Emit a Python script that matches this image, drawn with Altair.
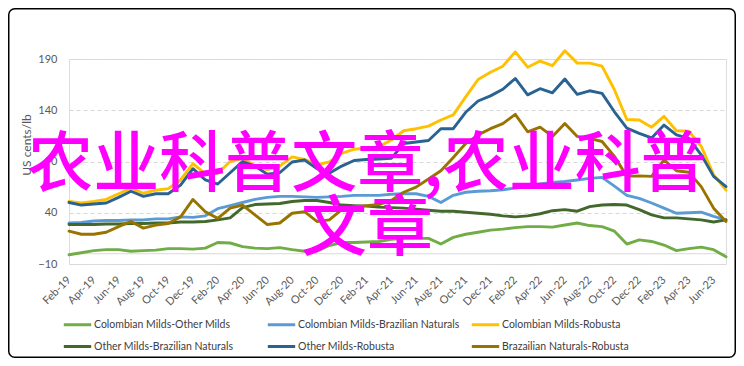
import altair as alt
import pandas as pd

months = list(pd.date_range("2019-02-01", periods=54, freq="MS").strftime("%b-%y"))

series_names = [
    "Colombian Milds-Other Milds",
    "Colombian Milds-Brazilian Naturals",
    "Colombian Milds-Robusta",
    "Other Milds-Brazilian Naturals",
    "Other Milds-Robusta",
    "Brazailian Naturals-Robusta",
]
series_colors = ["#70ad47", "#5b9bd5", "#ffc000", "#43682b", "#2a6291", "#997300"]

cm_om = [-1, 1, 3, 4, 4, 2.5, 3, 3.5, 5, 5, 4.5, 5.5, 11, 10.5, 7, 5.5, 5, 6, 4, 2.5,
         2.5, 8, 11, 11, 11.5, 12, 14, 15, 15, 15, 9.5, 16, 19, 21, 23, 24, 25.5, 26.5, 26.5, 26,
         28, 30, 27.5, 26.5, 22, 9.5, 13.5, 12, 8.5, 3, 5, 6.5, 4, -3]
cm_bn = [30, 30.5, 32, 32.5, 32.5, 33, 33, 34, 34, 36, 35.5, 37, 44, 47, 50, 53, 55, 56, 56, 55.5,
         55, 55.5, 56, 57, 57, 57, 58, 58.5, 58.5, 56, 50, 57, 60, 61, 61.5, 62.5, 64, 66, 68, 69.5,
         70.5, 72, 73.5, 74.5, 66, 57, 54, 49.5, 44.5, 39.5, 40, 40.5, 36.5, 33]
cm_rob = [51, 49.5, 51, 53, 58.5, 64, 59, 62, 63.5, 72, 88, 78, 78.5, 90, 93, 86, 82, 85.5, 94.5, 92,
          87, 89.5, 98, 102, 103, 104.5, 111, 120, 122, 124.5, 130.5, 135.5, 153, 170, 177, 183, 197, 182, 188, 183.5,
          198, 186, 186, 183, 160, 131, 130.5, 123.5, 134, 120, 119.5, 105, 77, 62]
om_bn = [28.5, 28.5, 28.5, 29, 29, 29.5, 29.5, 30, 30, 31, 31, 31.5, 33, 35, 45, 48, 48.5, 49, 51, 52,
         52, 50, 47.5, 47, 46.5, 45.5, 45, 44.5, 43.5, 42.5, 41.5, 41.5, 40.5, 39.5, 38.5, 37, 36, 37, 39, 42,
         43, 41.5, 46, 47.5, 48, 47.5, 43, 38, 35, 35, 34, 33, 31, 33]
om_rob = [50, 47.5, 48.5, 49.5, 55, 61, 56, 58.5, 58.5, 67, 83, 72, 68, 79, 90, 85.5, 77.5, 79, 89.5, 91.5,
          83, 78.5, 85.5, 91, 92, 92.5, 93, 107.5, 109, 110.5, 122, 122, 138, 149, 154, 160.5, 171, 155, 161, 157,
          170.5, 155.5, 159, 156.5, 138.5, 122.5, 117.5, 113, 125.5, 116, 112.5, 96.5, 75.5, 65.5]
bn_rob = [22, 19, 19, 21, 26.5, 31.5, 25, 28, 29.5, 36, 53, 41, 34.5, 44.5, 47.5, 38, 28.5, 30, 39.5, 41,
          31.5, 33, 43, 46, 47, 48, 52, 60, 65, 73, 81, 94, 107.5, 116, 122, 127, 136, 119, 123.5, 114.5,
          127, 114.5, 112.5, 109.5, 95, 75.5, 76, 75.5, 91.5, 81, 79.5, 65.5, 44.5, 31.5]

y_ticks = [-10, 40, 90, 140, 190]
y_title = "US cents/lb"
overlay_text = ["农业科普文章,农业科普", "文章"]

all_values = [cm_om, cm_bn, cm_rob, om_bn, om_rob, bn_rob]
rows = []
for name, vals in zip(series_names, all_values):
    for i, (m, v) in enumerate(zip(months, vals)):
        rows.append({"month": m, "idx": i, "series": name, "value": v})
df = pd.DataFrame(rows)

FONT = "Lato"
W, H = 657, 205

lines = alt.Chart(df).mark_line(strokeWidth=2.9, strokeJoin="round", strokeCap="round").encode(
    x=alt.X("month:O", scale=alt.Scale(type="point", padding=0, domain=months),
            axis=alt.Axis(values=months[::2], labelAngle=-45, labelAlign="right", labelBaseline="middle",
                          labelPadding=14, ticks=False, tickSize=0, domain=False, grid=False, title=None,
                          labelFont=FONT, labelFontSize=11, labelColor="#595959")),
    y=alt.Y("value:Q", scale=alt.Scale(domain=[-10, 190], nice=False, zero=False),
            axis=alt.Axis(values=y_ticks, grid=True, gridDash=[4, 3], gridColor="#d9d9d9", gridWidth=1,
                          ticks=False, tickSize=0, domain=False, labelPadding=12,
                          labelFont=FONT, labelFontSize=11, labelColor="#595959", title=None)),
    color=alt.Color("series:N", scale=alt.Scale(domain=series_names, range=series_colors),
                    legend=alt.Legend(orient="none", legendX=-7, legendY=250, direction="horizontal",
                                      columns=3, symbolType="stroke", symbolStrokeWidth=3, symbolSize=750,
                                      labelFont=FONT, labelFontSize=10.5, labelColor="#404040", title=None,
                                      gridAlign="all", columnPadding=5, rowPadding=-1, labelOffset=1,
                                      labelLimit=300, padding=0)),
    order=alt.Order("idx:Q"),
)

zero_rule = alt.Chart(pd.DataFrame({"v": [0]})).mark_rule(color="#d9d9d9", strokeWidth=1.2).encode(
    y=alt.Y("v:Q")
)

ytitle = alt.Chart(pd.DataFrame({"t": [0]})).mark_text(
    text=y_title, font=FONT, fontSize=12, color="#595959", angle=270,
    align="center", baseline="middle"
).encode(x=alt.value(-42), y=alt.value(86))

overlay = alt.Chart(pd.DataFrame({"t": [0]})).mark_text(
    text=overlay_text, font="Noto Sans CJK SC", fontSize=66, fontWeight=500, color="#ff00ff",
    align="center", baseline="middle", lineHeight=64
).encode(x=alt.value(298), y=alt.value(107))

border = alt.Chart(pd.DataFrame({"t": [0]})).mark_rect(
    fill="transparent", stroke="black", strokeWidth=1.5, cornerRadius=6
).encode(x=alt.value(-60.25), x2=alt.value(666.25), y=alt.value(-50.25), y2=alt.value(298.25))

chart = alt.layer(zero_rule, lines, ytitle, overlay, border).properties(
    width=W, height=H,
    padding={"left": 61, "top": 51, "right": 10, "bottom": 94},
    autosize=alt.AutoSizeParams(type="none"),
).configure_view(stroke=None).configure(background="white")

chart.save("out.html", embed_options={"renderer": "svg", "actions": False})
